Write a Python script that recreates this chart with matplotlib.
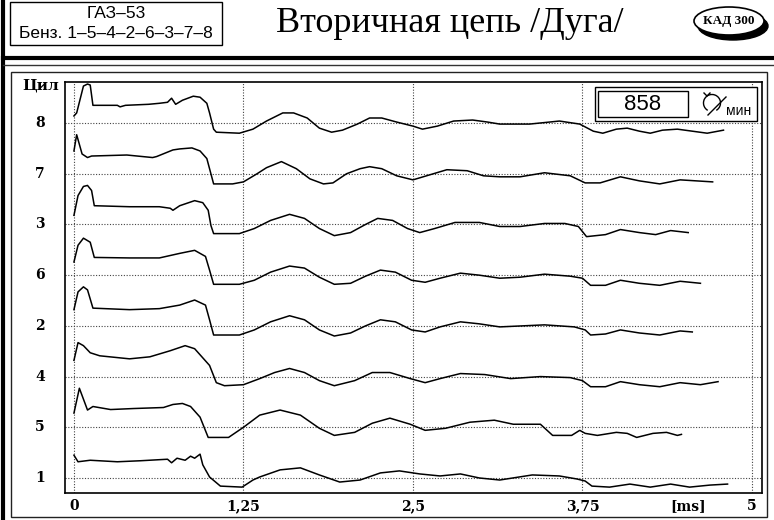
import numpy as np
import matplotlib
matplotlib.use('Agg')
import matplotlib.pyplot as plt
from matplotlib.patches import Rectangle, Ellipse, Arc

# cylinders in firing display order, bottom row first
cyl_labels = ['1', '5', '4', '2', '6', '3', '7', '8']
x_ticks = [0, 1.25, 2.5, 3.75, 5]
x_tick_text = ['0', '1,25', '2,5', '3,75', '5']
rpm = 858

# secondary voltage per cylinder: time [ms], level above row baseline [kV] (10 kV per row)
t8 = [0, .02, .07, .10, .12, .14, .32, .34, .38, .55, .63, .69, .72, .75, .80, .88, .93, .98, 1.00, 1.03,
      1.05, 1.22, 1.32, 1.42, 1.54, 1.62, 1.72, 1.81, 1.90, 1.98, 2.09, 2.18, 2.27, 2.38, 2.50, 2.57, 2.68,
      2.80, 2.94, 3.05, 3.14, 3.36, 3.58, 3.73, 3.83, 3.90, 4.00, 4.08, 4.17, 4.25, 4.34, 4.45, 4.56, 4.67, 4.79]
v8 = [1.4, 2.0, 7.3, 7.7, 7.5, 3.5, 3.5, 3.2, 3.5, 3.7, 3.9, 4.1, 4.9, 3.7, 4.5, 5.3, 5.1, 3.9, 2.0, -1.2,
      -1.8, -2.0, -1.2, 0.4, 2.0, 2.0, 1.0, -1.0, -1.8, -1.4, -0.2, 1.0, 1.0, 0.2, -0.6, -1.2, -0.6,
      0.4, 0.6, 0.2, -0.2, -0.2, 0.4, -0.2, -1.6, -2.0, -1.2, -1.0, -1.6, -2.0, -1.4, -1.2, -1.6, -2.0, -1.4]

t7 = [0, .02, .06, .10, .13, .39, .58, .61, .73, .78, .87, .93, .98, 1.03, 1.17, 1.25, 1.35, 1.42, 1.53,
      1.64, 1.74, 1.84, 1.91, 2.01, 2.11, 2.18, 2.27, 2.38, 2.50, 2.60, 2.75, 2.90, 3.02, 3.14, 3.29, 3.47,
      3.66, 3.77, 3.88, 4.03, 4.17, 4.32, 4.47, 4.71]
v7 = [4.5, 7.7, 3.9, 3.2, 3.5, 3.7, 3.2, 3.4, 4.7, 4.9, 5.1, 4.5, 3.0, -2.0, -2.0, -1.6, 0, 1.2, 2.4,
      1.0, -1.0, -2.0, -1.8, 0, 1.0, 1.4, 1.0, -0.4, -1.2, -0.4, 0.8, 0.6, -0.4, -0.6, -0.6, 0.2,
      -0.4, -1.8, -1.8, -0.6, -1.4, -2.0, -1.2, -1.6]

t3 = [0, .03, .07, .10, .13, .15, .41, .63, .71, .73, .78, .89, .95, .99, 1.01, 1.03, 1.22, 1.33, 1.45,
      1.59, 1.70, 1.81, 1.92, 2.04, 2.15, 2.24, 2.35, 2.46, 2.55, 2.66, 2.81, 2.99, 3.14, 3.29, 3.47, 3.62,
      3.72, 3.78, 3.92, 4.03, 4.17, 4.29, 4.40, 4.53]
v3 = [1.8, 5.7, 7.5, 7.7, 6.7, 3.7, 3.5, 3.5, 3.2, 2.8, 3.7, 4.7, 4.3, 2.8, -0.2, -1.8, -1.8, -0.8, 0.8,
      2.0, 1.2, -0.8, -2.2, -1.6, 0, 1.2, 0.8, -0.8, -1.6, -0.8, 0.4, 0.4, -0.4, -0.4, 0.2, 0.2,
      -0.4, -2.4, -2.0, -1.0, -1.6, -2.0, -1.2, -1.6]

t6 = [0, .03, .07, .12, .15, .41, .63, .78, .89, .97, 1.00, 1.03, 1.22, 1.33, 1.45, 1.59, 1.70, 1.81,
      1.92, 2.04, 2.15, 2.26, 2.37, 2.49, 2.59, 2.70, 2.85, 2.99, 3.14, 3.29, 3.47, 3.66, 3.75, 3.81, 3.92,
      4.03, 4.17, 4.32, 4.47, 4.62]
v6 = [2.6, 5.9, 7.3, 6.5, 3.5, 3.4, 3.4, 4.3, 4.9, 3.7, 1.0, -1.8, -1.8, -1.0, 0.6, 1.8, 1.4, -0.4,
      -1.8, -1.6, -0.2, 1.0, 0.6, -1.0, -1.4, -0.6, 0.4, 0, -0.6, -0.4, 0.2, -0.2, -0.6, -2.0, -2.0,
      -1.0, -1.6, -2.0, -1.2, -1.6]

t2 = [0, .03, .07, .10, .14, .41, .63, .78, .89, .97, 1.00, 1.03, 1.22, 1.33, 1.45, 1.59, 1.70, 1.81,
      1.92, 2.04, 2.15, 2.26, 2.37, 2.49, 2.59, 2.70, 2.85, 2.99, 3.14, 3.47, 3.69, 3.77, 3.81, 3.92, 4.03,
      4.17, 4.32, 4.47, 4.56]
v2 = [3.2, 6.7, 7.7, 7.1, 3.5, 3.2, 3.4, 4.1, 5.1, 4.1, 1.2, -1.8, -1.8, -0.8, 0.8, 2.0, 1.2, -0.8,
      -2.0, -1.4, 0, 1.2, 0.8, -0.8, -1.2, -0.2, 0.8, 0.4, -0.2, 0.2, -0.2, -0.8, -1.8, -1.6, -0.8,
      -1.4, -1.8, -1.0, -1.2]

t4 = [0, .03, .07, .12, .19, .41, .56, .71, .82, .89, 1.00, 1.05, 1.11, 1.25, 1.37, 1.48, 1.59, 1.70,
      1.81, 1.92, 2.07, 2.20, 2.33, 2.48, 2.59, 2.70, 2.85, 3.03, 3.22, 3.44, 3.66, 3.75, 3.81, 3.92, 4.03,
      4.17, 4.32, 4.47, 4.62, 4.75]
v4 = [3.2, 6.7, 6.1, 4.7, 4.1, 3.5, 3.9, 5.1, 6.1, 5.5, 2.2, -1.2, -1.8, -1.6, -0.4, 0.8, 1.6, 0.8,
      -0.8, -1.8, -0.8, 0.8, 0.8, -0.4, -1.2, -0.4, 0.6, 0.4, -0.4, 0, -0.2, -0.8, -2.0, -2.0, -1.0,
      -1.6, -2.0, -1.2, -1.6, -1.0]

t5 = [0, .04, .10, .14, .27, .44, .66, .73, .80, .86, .93, .99, 1.14, 1.25, 1.37, 1.52, 1.67, 1.81,
      1.92, 2.07, 2.20, 2.33, 2.48, 2.59, 2.74, 2.92, 3.10, 3.24, 3.44, 3.53, 3.67, 3.73, 3.77, 3.86, 4.00,
      4.08, 4.15, 4.27, 4.37, 4.45, 4.48]
v5 = [2.8, 7.7, 3.4, 4.1, 3.5, 3.7, 3.9, 4.5, 4.7, 4.1, 2.0, -2.0, -2.0, 0, 2.4, 3.4, 2.4, -0.2,
      -1.6, -1.0, 0.8, 1.8, 0.6, -0.6, -0.2, 1.0, 1.4, 0.6, 0.6, -1.6, -1.6, -0.6, -1.2, -1.6, -1.0,
      -1.2, -2.0, -1.2, -1.0, -1.6, -1.4]

t1 = [0, .03, .12, .32, .49, .69, .72, .76, .82, .86, .89, .93, .95, 1.00, 1.08, 1.24, 1.32, 1.37, 1.52,
      1.67, 1.81, 1.96, 2.11, 2.26, 2.40, 2.55, 2.70, 2.85, 2.99, 3.14, 3.38, 3.58, 3.71, 3.77, 3.82, 3.95,
      4.10, 4.25, 4.40, 4.54, 4.69, 4.82]
v1 = [4.5, 3.2, 3.5, 3.2, 3.4, 3.7, 3.0, 3.9, 3.5, 4.3, 3.9, 4.7, 2.6, 0.2, -1.6, -1.8, -0.4, 0.2, 1.6,
      2.0, 0.6, -0.8, -0.4, 1.0, 1.4, 0.8, 0.4, 0.8, 0, -0.4, 0.6, 0.4, -0.2, -0.6, -1.6, -1.8,
      -1.2, -1.8, -1.2, -1.8, -1.4, -1.2]

traces = [(t1, v1), (t5, v5), (t4, v4), (t2, v2), (t6, v6), (t3, v3), (t7, v7), (t8, v8)]
kv_per_row = 10.0

W, H = 774, 520
fig = plt.figure(figsize=(W / 100, H / 100), dpi=100)
fig.patch.set_facecolor('white')

sans = ['Liberation Sans', 'DejaVu Sans']
serif = ['Liberation Serif', 'DejaVu Serif']

# main scope area, pixel box 65..762 x 82..493
ax = fig.add_axes([65 / W, 1 - 493 / H, (762 - 65) / W, (493 - 82) / H])
for k, (t, v) in enumerate(traces):
    ax.plot(t, k + np.array(v) / kv_per_row, color='black', lw=1.1)
ax.set_xlim(-0.066, 5.074)
ax.set_ylim(-0.296, 7.81)
ax.set_xticks(x_ticks)
ax.set_yticks(range(len(cyl_labels)))
ax.set_xticklabels([])
ax.set_yticklabels([])
ax.tick_params(length=0)
ax.grid(True, color='#444444', lw=0.8, linestyle=(0, (1, 1.5)))
for s in ax.spines.values():
    s.set_linewidth(1.2)

# overlay in pixel coordinates for frames and header
ov = fig.add_axes([0, 0, 1, 1], zorder=5)
ov.set_xlim(0, W)
ov.set_ylim(H, 0)
ov.axis('off')

ov.plot([3, 3], [0, H], color='black', lw=3)
ov.plot([3, W], [58, 58], color='black', lw=3)
ov.plot([3, W], [65, 65], color='#333333', lw=1)
ov.add_patch(Rectangle((11, 72), 756, 445, fill=False, ec='#222222', lw=1))

# header block
ov.add_patch(Rectangle((10, 2), 212, 43, fill=False, ec='black', lw=1))
ov.text(116, 14, 'ГАЗ–53', family=sans, fontsize=12.5, ha='center', va='center')
ov.text(116, 34, 'Бенз. ' + '–'.join(['1', '5', '4', '2', '6', '3', '7', '8']),
        family=sans, fontsize=12.5, ha='center', va='center')
ov.text(450, 24, 'Вторичная цепь /Дуга/', family=serif, fontsize=26, ha='center', va='center')

# logo
ov.add_patch(Ellipse((733, 26), 70, 28, fc='black', ec='black'))
ov.add_patch(Ellipse((729, 21), 70, 28, fc='white', ec='black', lw=1.2))
ov.text(729, 21, 'КАД 300', family=serif, fontsize=9.5, weight='bold', ha='center', va='center')

# rpm box
ov.add_patch(Rectangle((595, 87), 162, 34, fc='white', ec='black', lw=1))
ov.add_patch(Rectangle((598, 91), 90, 26, fc='white', ec='black', lw=1))
ov.text(643, 104, str(rpm), family=sans, fontsize=16, ha='center', va='center')
ov.add_patch(Arc((712, 103), 17, 17, theta1=120, theta2=420, color='black', lw=1))
ov.plot([704, 707, 710], [93, 96, 93], color='black', lw=1)
ov.plot([708, 726], [115, 97], color='black', lw=1)
ov.text(739, 111, 'мин', family=sans, fontsize=10, ha='center', va='center')

# axis labels
lab_font = dict(family=['DejaVu Serif'], weight='bold', fontsize=10)
ov.text(41, 86, 'Цил', ha='center', va='center', family=['DejaVu Serif'], weight='bold', fontsize=11)
for k, lbl in enumerate(cyl_labels):
    ov.text(40, 478 - k * 50.7, lbl, ha='center', va='center', **lab_font)
for xv, lbl in zip(x_ticks, x_tick_text):
    ov.text(74 + xv * 135.6, 506, lbl, ha='center', va='center', **lab_font)
ov.text(688, 506, '[ms]', ha='center', va='center', **lab_font)

fig.savefig('out.png', dpi=100)
